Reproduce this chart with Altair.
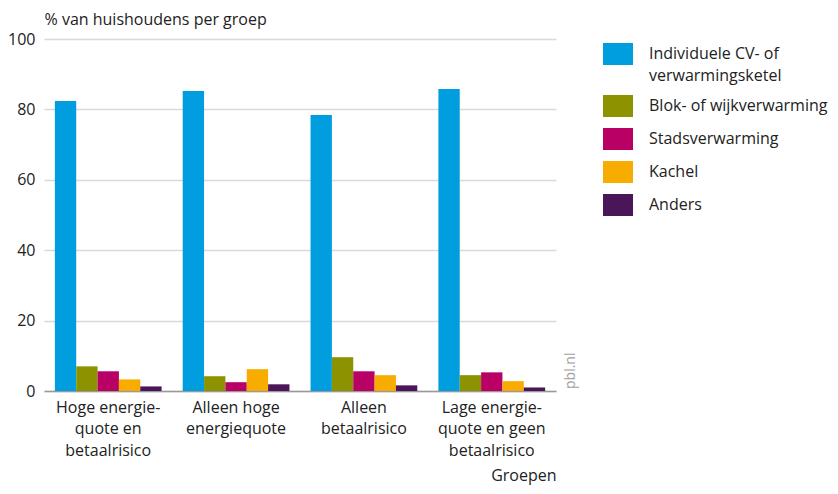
import altair as alt
import pandas as pd

groups = ["Hoge energie-|quote en|betaalrisico", "Alleen hoge|energiequote",
          "Alleen|betaalrisico", "Lage energie-|quote en geen|betaalrisico"]
series = ["Individuele CV- of|verwarmingsketel", "Blok- of wijkverwarming",
          "Stadsverwarming", "Kachel", "Anders"]
colors = ["#009ddf", "#8c9200", "#b90064", "#f8ac00", "#4a1559"]

cv = [82.4, 85.2, 78.4, 85.8]
blok = [7.0, 4.2, 9.6, 4.5]
stads = [5.6, 2.5, 5.6, 5.3]
kachel = [3.3, 6.2, 4.5, 2.8]
anders = [1.3, 1.9, 1.6, 1.0]

rows = []
for s, vals in zip(series, [cv, blok, stads, kachel, anders]):
    for g, v in zip(groups, vals):
        rows.append({"groep": g, "type": s, "waarde": v})
df = pd.DataFrame(rows)

W, H = 512, 352
FONT = "Open Sans"
FS = 16
TXT = "#222"

bars = alt.Chart(df).mark_bar().encode(
    x=alt.X("groep:N", sort=groups,
            scale=alt.Scale(paddingInner=0.165, paddingOuter=0.085),
            axis=alt.Axis(title="Groepen", labelAngle=0, labelExpr="split(datum.label, '|')",
                          labelFontSize=FS, labelColor=TXT, labelPadding=8,
                          labelLineHeight=21.5, labelBaseline="top",
                          ticks=False, domainColor="#999", domainWidth=1.5,
                          titleFontSize=FS, titleFontWeight="normal", titleColor=TXT,
                          titleAnchor="end", titleAlign="right", titlePadding=9)),
    xOffset=alt.XOffset("type:N", sort=series),
    y=alt.Y("waarde:Q", scale=alt.Scale(domain=[0, 100]),
            axis=alt.Axis(title="% van huishoudens per groep", values=[0, 20, 40, 60, 80, 100],
                          titleAngle=0, titleAlign="left", titleAnchor="start",
                          titleX=0, titleY=-12, titleBaseline="bottom",
                          titleFontSize=FS, titleFontWeight="normal", titleColor=TXT,
                          labelFontSize=FS, labelColor=TXT, labelPadding=9,
                          ticks=False, domain=False, gridColor="#d9d9d9", gridWidth=1.5)),
    color=alt.Color("type:N", sort=series,
                    scale=alt.Scale(domain=series, range=colors),
                    legend=alt.Legend(title=None, orient="right", offset=47,
                                      labelExpr="split(datum.label, '|')",
                                      labelFontSize=FS, labelColor=TXT, labelLimit=400,
                                      labelOffset=16,
                                      symbolType="M-1,-0.733H1V0.733H-1Z",
                                      symbolSize=900, symbolStrokeWidth=0,
                                      symbolOpacity=1, rowPadding=7)),
)

wm = alt.Chart(pd.DataFrame({"t": ["pbl.nl"]})).mark_text(
    angle=270, align="left", baseline="middle", fontSize=14, color="#a0a0a0", font=FONT
).encode(text="t:N", x=alt.value(W + 15), y=alt.value(H - 2))

chart = alt.layer(bars, wm).properties(
    width=W, height=H, autosize=alt.AutoSizeParams(type="none"),
    padding={"left": 36, "top": 31, "right": 274, "bottom": 95}
).configure(font=FONT, style={"guide-label": {"lineHeight": 22}}).configure_view(stroke=None)

chart.save("out.html", embed_options={"renderer": "svg", "actions": False})
